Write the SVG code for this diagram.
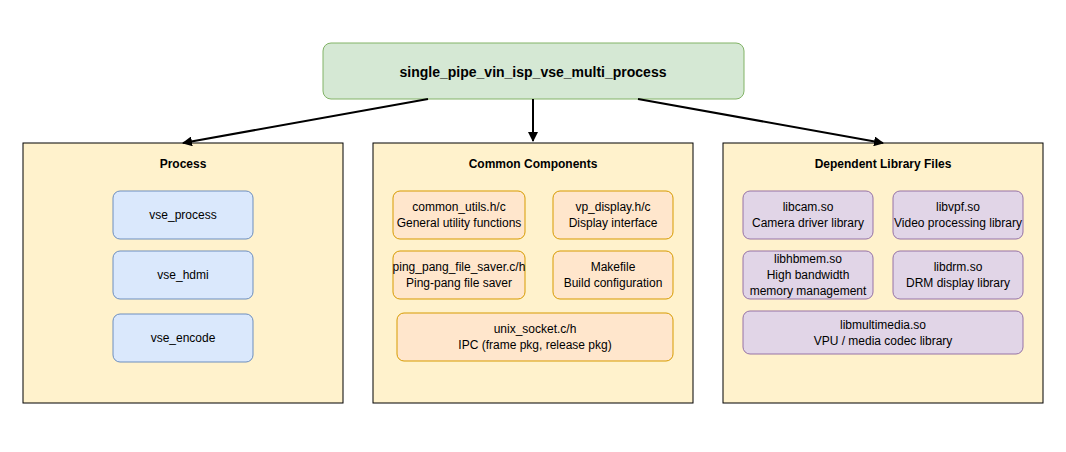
<svg xmlns="http://www.w3.org/2000/svg" width="1066" height="452" viewBox="0 0 1066 452">
<style>
text{font-family:"Liberation Sans",Arial,sans-serif;font-size:12px;fill:#000;text-anchor:middle}
.t{font-weight:bold}
.c{fill:#fff2cc;stroke:#000;stroke-width:1}
.b{fill:#dae8fc;stroke:#6c8ebf}
.o{fill:#ffe6cc;stroke:#d79b00}
.p{fill:#e1d5e7;stroke:#9673a6}
.e{stroke:#000;stroke-width:2;fill:none;marker-end:url(#a)}
</style>
<defs><marker id="a" viewBox="0 0 10 10" refX="9" refY="5" markerWidth="5" markerHeight="5" orient="auto"><path d="M0,0L10,5L0,10z" fill="#000"/></marker></defs>
<rect width="1066" height="452" fill="#fff"/>
<g id="root"><rect x="323" y="43" width="421" height="56" rx="8" fill="#d5e8d4" stroke="#82b366"/><text x="533" y="77" class="t" style="font-size:14px">single_pipe_vin_isp_vse_multi_process</text></g>
<g id="process"><rect class="c" x="23" y="143" width="320" height="260"/><text class="t" x="183" y="168">Process</text></g>
<g id="common"><rect class="c" x="373" y="143" width="320" height="260"/><text class="t" x="533" y="168">Common Components</text></g>
<g id="deps"><rect class="c" x="723" y="143" width="320" height="260"/><text class="t" x="883" y="168">Dependent Library Files</text></g>
<g id="vse_process"><rect class="b" x="113" y="191" width="140" height="48" rx="7"/><text x="183" y="219">vse_process</text></g>
<g id="vse_hdmi"><rect class="b" x="113" y="251" width="140" height="48" rx="7"/><text x="183" y="279">vse_hdmi</text></g>
<g id="vse_encode"><rect class="b" x="113" y="314" width="140" height="48" rx="7"/><text x="183" y="342">vse_encode</text></g>
<g id="common_utils"><rect class="o" x="393" y="191" width="132" height="48" rx="7"/><text x="459" y="211">common_utils.h/c</text><text x="459" y="227">General utility functions</text></g>
<g id="vp_display"><rect class="o" x="553" y="191" width="120" height="48" rx="7"/><text x="613" y="211">vp_display.h/c</text><text x="613" y="227">Display interface</text></g>
<g id="ping_pang"><rect class="o" x="393" y="251" width="132" height="48" rx="7"/><text x="459" y="271">ping_pang_file_saver.c/h</text><text x="459" y="287">Ping-pang file saver</text></g>
<g id="makefile"><rect class="o" x="553" y="251" width="120" height="48" rx="7"/><text x="613" y="271">Makefile</text><text x="613" y="287">Build configuration</text></g>
<g id="unix_socket"><rect class="o" x="397" y="313" width="276" height="48" rx="7"/><text x="535" y="333">unix_socket.c/h</text><text x="535" y="349">IPC (frame pkg, release pkg)</text></g>
<g id="libcam"><rect class="p" x="743" y="191" width="130" height="48" rx="7"/><text x="808" y="211">libcam.so</text><text x="808" y="227">Camera driver library</text></g>
<g id="libvpf"><rect class="p" x="893" y="191" width="130" height="48" rx="7"/><text x="958" y="211">libvpf.so</text><text x="958" y="227">Video processing library</text></g>
<g id="libhbmem"><rect class="p" x="743" y="251" width="130" height="48" rx="7"/><text x="808" y="263">libhbmem.so</text><text x="808" y="279">High bandwidth</text><text x="808" y="295">memory management</text></g>
<g id="libdrm"><rect class="p" x="893" y="251" width="130" height="48" rx="7"/><text x="958" y="271">libdrm.so</text><text x="958" y="287">DRM display library</text></g>
<g id="libmultimedia"><rect class="p" x="743" y="311" width="280" height="43" rx="7"/><text x="883" y="329">libmultimedia.so</text><text x="883" y="345">VPU / media codec library</text></g>
<g id="connectors">
<path class="e" d="M428,99L183,143"/>
<path class="e" d="M533,99L533,141"/>
<path class="e" d="M638,99L883,143"/>
</g>
</svg>
